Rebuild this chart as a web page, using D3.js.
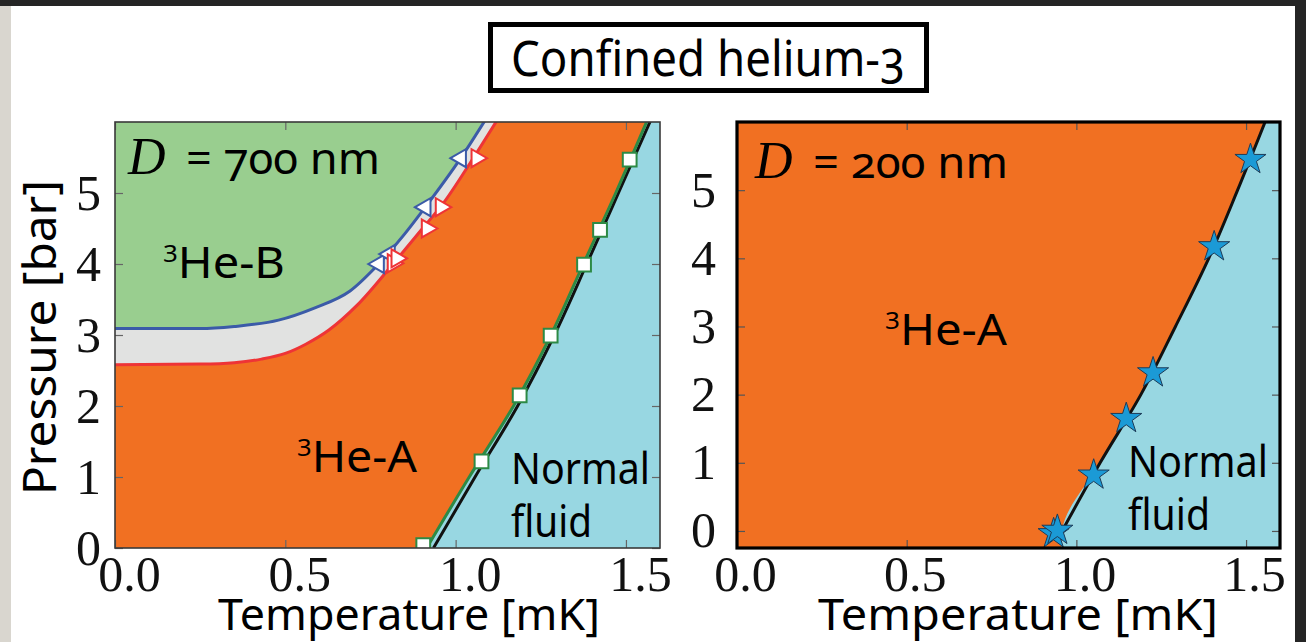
<!DOCTYPE html>
<html><head><meta charset="utf-8">
<script src="https://cdn.jsdelivr.net/npm/d3@7"></script>
<style>body{margin:0;background:#fff;overflow:hidden}</style>
</head><body>
<svg id="c" width="1306" height="642"></svg>
<script>
// ---------- data ----------
const tempTicks = [0.0, 0.5, 1.0, 1.5];
const pressureTicks = [0, 1, 2, 3, 4, 5];

// D = 700 nm panel
const bPhaseLineT = [0, 0.25, 0.35, 0.48, 0.585, 0.69, 0.774, 0.85, 0.911, 1.015, 1.09];
const bPhaseLineP = [3.09, 3.09, 3.12, 3.21, 3.38, 3.62, 4.0, 4.42, 4.8, 5.49, 6.05];
const aPhaseLineT = [0, 0.25, 0.35, 0.43, 0.50, 0.56, 0.628, 0.711, 0.816, 0.899, 0.963, 1.045, 1.125];
const aPhaseLineP = [2.58, 2.59, 2.61, 2.66, 2.74, 2.87, 3.07, 3.42, 4.0, 4.48, 4.85, 5.44, 6.05];
const fitLineP = [0, 1, 2, 3, 4, 5, 6.05];
const fitLineT = [0.915, 1.04, 1.17, 1.28, 1.375, 1.47, 1.565];
const bulkLineP = [0, 1, 2, 3, 4, 5, 6.05];
const bulkLineT = [0.935, 1.057, 1.182, 1.29, 1.385, 1.478, 1.575];
const squareT = [0.905, 1.076, 1.188, 1.279, 1.377, 1.424, 1.511];
const squareP = [0.04, 1.22, 2.15, 2.99, 3.99, 4.48, 5.47];
const leftTriT = [0.774, 0.806, 0.911, 1.015];
const leftTriP = [4.0, 4.14, 4.80, 5.49];
const rightTriT = [0.816, 0.827, 0.916, 0.957, 1.062];
const rightTriP = [4.01, 4.08, 4.50, 4.80, 5.49];

// D = 200 nm panel
const line200P = [-0.3, 0, 1, 2, 3, 4, 5, 6.05];
const line200T = [0.955, 0.958, 1.07, 1.19, 1.292, 1.39, 1.475, 1.56];
const starT = [0.933, 0.944, 1.051, 1.147, 1.226, 1.406, 1.513];
const starP = [-0.04, 0.01, 0.82, 1.65, 2.32, 4.17, 5.45];

// ---------- colours ----------
const C = {
  green: "#99ce8f", gray: "#e1e2e1", orange: "#f17022", cyan: "#98d7e2",
  blue: "#3b5ba8", red: "#ee3436", gline: "#2d8a45", star: "#1b9ad6"
};

const zip = (T, P) => T.map((t, i) => ({T: t, P: P[i]}));
const svg = d3.select("#c");

// page backdrop
svg.append("rect").attr("width", 1306).attr("height", 642).attr("fill", "#fff");
svg.append("rect").attr("x", 0).attr("y", 0).attr("width", 11).attr("height", 642).attr("fill", "#d9d6cf");
svg.append("rect").attr("x", 0).attr("y", 0).attr("width", 1306).attr("height", 6).attr("fill", "#252525");
svg.append("rect").attr("x", 1295).attr("y", 0).attr("width", 11).attr("height", 642).attr("fill", "#252525");

// ---------- scales ----------
const xL = d3.scaleLinear().domain([0, 1.6]).range([115, 660]);
const yL = d3.scaleLinear().domain([0, 6]).range([548, 122]);
const xR = d3.scaleLinear().domain([0, 1.6]).range([737, 1280]);
const yR = d3.scaleLinear().domain([-0.25, 6]).range([548, 122]);

const defs = svg.append("defs");
function clip(id, x, y) {
  defs.append("clipPath").attr("id", id).append("rect")
    .attr("x", x.range()[0]).attr("y", y.range()[1])
    .attr("width", x.range()[1] - x.range()[0]).attr("height", y.range()[0] - y.range()[1]);
}
clip("clipL", xL, yL);
clip("clipR", xR, yR);

function fitText(parent, parts, x, y, len, opts = {}) {
  const t = parent.append("text")
    .attr("font-family", opts.family || "Noto Sans")
    .attr("font-size", opts.size || 44)
    .attr("fill", "#000");
  if (opts.style) t.attr("style", opts.style);
  parts.forEach(p => {
    const s = t.append("tspan").text(p.t);
    if (p.sup) s.attr("font-size", (opts.size || 44) * 0.55).attr("dy", -(opts.size || 44) * 0.36);
    if (p.down) s.attr("dy", (opts.size || 44) * 0.36);
  });
  const w = t.node().getBBox().width;
  const rot = opts.rotate ? ` rotate(${opts.rotate})` : "";
  t.attr("transform", `translate(${x},${y})${rot} scale(${len ? len / w : 1},1)`);
  return t;
}

const tickFont = 50;

function drawAxes(g, x, y, o) {
  const [x0, x1] = x.range(), [y0, y1] = y.range();
  const styleAx = a => {
    a.select(".domain").remove();
    a.attr("font-size", tickFont).attr("font-family", "Liberation Serif");
    a.selectAll(".tick line").attr("stroke", o.tickColor).attr("stroke-width", 1.2);
    a.selectAll(".tick text").attr("fill", "#111")
      .style("font-family", "Liberation Serif").style("font-size", tickFont + "px");
  };
  g.append("g").attr("transform", `translate(0,${y0})`)
    .call(d3.axisBottom(x).tickValues(tempTicks).tickSizeInner(-8).tickSizeOuter(0)
      .tickPadding(7).tickFormat(d3.format(".1f")))
    .call(styleAx).call(a => a.selectAll(".tick text").attr("dx", o.xdx));
  g.append("g").attr("transform", `translate(0,${y1})`)
    .call(d3.axisTop(x).tickValues(tempTicks).tickSizeInner(-8).tickSizeOuter(0).tickFormat(""))
    .call(styleAx);
  g.append("g").attr("transform", `translate(${x0},0)`)
    .call(d3.axisLeft(y).tickValues(pressureTicks).tickSizeInner(-8).tickSizeOuter(0)
      .tickPadding(o.ypad).tickFormat(d3.format("d")))
    .call(styleAx);
  g.append("g").attr("transform", `translate(${x1},0)`)
    .call(d3.axisRight(y).tickValues(pressureTicks).tickSizeInner(-8).tickSizeOuter(0).tickFormat(""))
    .call(styleAx);
  g.append("rect").attr("x", x0).attr("y", y1).attr("width", x1 - x0).attr("height", y0 - y1)
    .attr("fill", "none").attr("stroke", o.border).attr("stroke-width", o.borderW);
}

// ---------- left panel: D = 700 nm ----------
const gL = svg.append("g");
const pL = gL.append("g").attr("clip-path", "url(#clipL)");
pL.append("rect").attr("x", 115).attr("y", 122).attr("width", 545).attr("height", 426).attr("fill", C.cyan);
pL.append("path").datum(zip(fitLineT, fitLineP))
  .attr("d", d3.area().curve(d3.curveMonotoneY).y(d => yL(d.P)).x0(xL(0)).x1(d => xL(d.T)))
  .attr("fill", C.orange);
pL.append("path").datum(zip(aPhaseLineT, aPhaseLineP))
  .attr("d", d3.area().curve(d3.curveMonotoneX).x(d => xL(d.T)).y0(d => yL(d.P)).y1(yL(6.2)))
  .attr("fill", C.gray);
pL.append("path").datum(zip(bPhaseLineT, bPhaseLineP))
  .attr("d", d3.area().curve(d3.curveMonotoneX).x(d => xL(d.T)).y0(d => yL(d.P)).y1(yL(6.2)))
  .attr("fill", C.green);

const lineTP = (x, y) => d3.line().curve(d3.curveMonotoneX).x(d => x(d.T)).y(d => y(d.P));
const linePT = (x, y) => d3.line().curve(d3.curveMonotoneY).x(d => x(d.T)).y(d => y(d.P));
pL.append("path").datum(zip(bPhaseLineT, bPhaseLineP)).attr("d", lineTP(xL, yL))
  .attr("fill", "none").attr("stroke", C.blue).attr("stroke-width", 3);
pL.append("path").datum(zip(aPhaseLineT, aPhaseLineP)).attr("d", lineTP(xL, yL))
  .attr("fill", "none").attr("stroke", C.red).attr("stroke-width", 3);
pL.append("path").datum(zip(bulkLineT, bulkLineP)).attr("d", linePT(xL, yL))
  .attr("fill", "none").attr("stroke", "#111").attr("stroke-width", 3);
pL.append("path").datum(zip(fitLineT, fitLineP)).attr("d", linePT(xL, yL))
  .attr("fill", "none").attr("stroke", C.gline).attr("stroke-width", 3);

const tri = d3.symbol().type(d3.symbolTriangle).size(140);
pL.selectAll(".lt").data(zip(leftTriT, leftTriP)).join("path")
  .attr("d", tri).attr("transform", d => `translate(${xL(d.T)},${yL(d.P)}) rotate(-90)`)
  .attr("fill", "#fff").attr("stroke", C.blue).attr("stroke-width", 2);
pL.selectAll(".rt").data(zip(rightTriT, rightTriP)).join("path")
  .attr("d", tri).attr("transform", d => `translate(${xL(d.T)},${yL(d.P)}) rotate(90)`)
  .attr("fill", "#fff").attr("stroke", C.red).attr("stroke-width", 2);
pL.selectAll(".sq").data(zip(squareT, squareP)).join("path")
  .attr("d", d3.symbol().type(d3.symbolSquare).size(190))
  .attr("transform", d => `translate(${xL(d.T)},${yL(d.P)})`)
  .attr("fill", "#fff").attr("stroke", C.gline).attr("stroke-width", 2);

drawAxes(gL, xL, yL, {tickColor: "#666", border: "#3a3a3a", borderW: 1.6, xdx: 14, ypad: 14});

// ---------- right panel: D = 200 nm ----------
const gR = svg.append("g");
const pR = gR.append("g").attr("clip-path", "url(#clipR)");
pR.append("rect").attr("x", 737).attr("y", 122).attr("width", 543).attr("height", 426).attr("fill", C.cyan);
pR.append("path").datum(zip(line200T, line200P))
  .attr("d", d3.area().curve(d3.curveMonotoneY).y(d => yR(d.P)).x0(xR(0)).x1(d => xR(d.T)))
  .attr("fill", C.orange);
pR.append("path").datum(zip(line200T, line200P).filter(d => d.P >= 0)).attr("d", linePT(xR, yR))
  .attr("fill", "none").attr("stroke", "#111").attr("stroke-width", 3);
pR.selectAll(".st").data(zip(starT, starP)).join("path")
  .attr("d", d3.symbol().type(d3.symbolStar).size(300))
  .attr("transform", d => `translate(${xR(d.T)},${yR(d.P)})`)
  .attr("fill", C.star).attr("stroke", "#1d3b57").attr("stroke-width", 1);

drawAxes(gR, xR, yR, {tickColor: "#555", border: "#000", borderW: 3.2, xdx: 8, ypad: 21});

// ---------- texts ----------
const onum = "font-variant-numeric: oldstyle-nums; font-feature-settings: 'onum' 1;";
// title
svg.append("rect").attr("x", 490.5).attr("y", 24.5).attr("width", 436).attr("height", 66)
  .attr("fill", "#fff").attr("stroke", "#000").attr("stroke-width", 5);
fitText(svg, [{t: "Confined helium-3"}], 511, 76, 394, {size: 50, style: onum});

// panel labels
svg.append("text").attr("x", 128).attr("y", 174).attr("font-family", "Liberation Serif")
  .attr("font-style", "italic").attr("font-size", 52).text("D");
fitText(svg, [{t: "= 700 nm"}], 186, 174, 194, {size: 44, style: onum});
svg.append("text").attr("x", 755).attr("y", 178).attr("font-family", "Liberation Serif")
  .attr("font-style", "italic").attr("font-size", 52).text("D");
fitText(svg, [{t: "= 200 nm"}], 813, 178, 195, {size: 44, style: onum});

fitText(svg, [{t: "3", sup: true}, {t: "He-B", down: true}], 163, 278, 122, {size: 44});
fitText(svg, [{t: "3", sup: true}, {t: "He-A", down: true}], 297, 472, 121, {size: 44});
fitText(svg, [{t: "Normal"}], 511, 484, 139, {size: 44});
fitText(svg, [{t: "fluid"}], 511, 537, 81, {size: 44});
fitText(svg, [{t: "3", sup: true}, {t: "He-A", down: true}], 885, 345, 123, {size: 44});
fitText(svg, [{t: "Normal"}], 1128, 477, 140, {size: 44});
fitText(svg, [{t: "fluid"}], 1128, 530, 82, {size: 44});

// axis titles
fitText(svg, [{t: "Temperature [mK]"}], 218, 630, 382, {size: 44});
fitText(svg, [{t: "Temperature [mK]"}], 818, 630, 400, {size: 44});
fitText(svg, [{t: "Pressure [bar]"}], 56, 495, 315, {size: 45, rotate: -90});
</script>
</body></html>
